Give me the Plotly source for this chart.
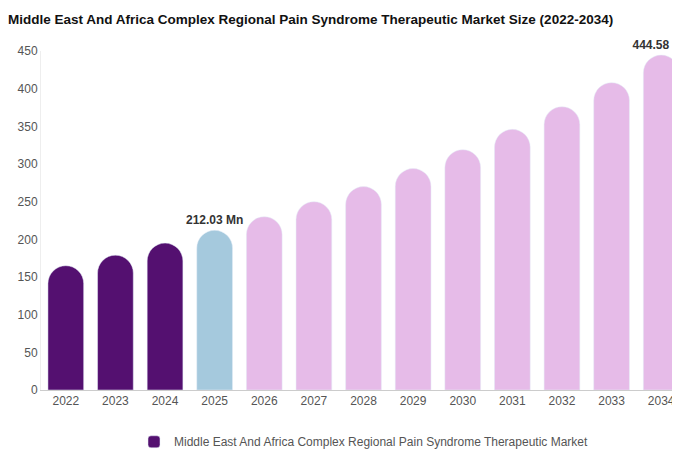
import plotly.graph_objects as go

years = ["2022", "2023", "2024", "2025", "2026", "2027", "2028", "2029", "2030", "2031", "2032", "2033", "2034"]
values = [165, 179, 195, 212.03, 230, 250, 270, 294, 319, 346, 376, 408, 444.58]
labels = ["", "", "", "212.03 Mn", "", "", "", "", "", "", "", "", "444.58 Mn"]
colors = ["#541070"] * 3 + ["#a5c9dd"] + ["#e6bbe8"] * 9

fig = go.Figure(go.Bar(
    x=years, y=values, name="Middle East And Africa Complex Regional Pain Syndrome Therapeutic Market",
    marker=dict(color=colors, cornerradius=18),
    text=labels, textposition="outside", cliponaxis=False, constraintext="none",
    textfont=dict(size=12, color="#333", family="Liberation Sans"),
    texttemplate="<b>%{text}</b>",
    showlegend=True,
))
fig.update_layout(
    width=680, height=450,
    title=dict(text="<b>Middle East And Africa Complex Regional Pain Syndrome Therapeutic Market Size (2022-2034)</b>",
               x=0, xanchor="left", y=0.985, font=dict(size=13.5, color="#111", family="Liberation Sans")),
    font=dict(family="Liberation Sans", size=12, color="#555"),
    paper_bgcolor="white", plot_bgcolor="white",
    margin=dict(l=33, r=2, t=43, b=61),
    bargap=0.28,
    xaxis=dict(showline=True, linecolor="#ccc", ticks="", tickfont=dict(color="#555")),
    yaxis=dict(range=[0, 450], dtick=50, showgrid=False, showline=True, linecolor="#eee", zeroline=False),
    legend=dict(orientation="h", x=0.5, xanchor="center", y=-0.11, yanchor="top", font=dict(color="#555")),
)
fig.write_html("out.html")
